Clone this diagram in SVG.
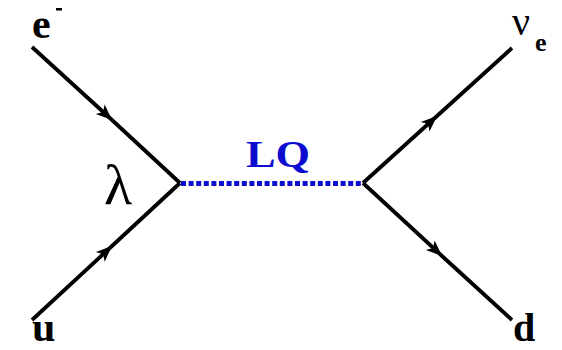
<svg xmlns="http://www.w3.org/2000/svg" width="562" height="350" viewBox="0 0 562 350">
<defs>
<marker id="arr" markerUnits="userSpaceOnUse" markerWidth="20" markerHeight="16" viewBox="-18 -8 20 16" refX="0" refY="0" orient="auto" overflow="visible">
<path d="M0,0 L-16,-6.5 L-12,0 L-16,6.5 Z" fill="#000"/>
</marker>
<style>
.f{fill:none;stroke:#000;stroke-width:3.8;stroke-linecap:butt;marker-mid:url(#arr)}
.lq{fill:none;stroke:#0c0cd0;stroke-width:5;stroke-dasharray:5 2.6}
.lab{font-family:"Liberation Serif","Times New Roman",serif;font-weight:bold;fill:#000}
</style>
</defs>
<rect width="562" height="350" fill="#fff"/>
<g id="connectors">
<polyline class="f" points="32,47 112,120 180,183"/>
<polyline class="f" points="32,320 112,246 180,183"/>
<polyline class="f" points="363,183 437,116 512,48"/>
<polyline class="f" points="363,183 442,256 512,320"/>
<line class="lq" x1="181" y1="183.5" x2="363" y2="183.5"/>
</g>
<g id="e-minus">
<text class="lab" x="32" y="38" font-size="42">e</text>
<rect x="56" y="8" width="6" height="2.5" fill="#000"/>
</g>
<g id="u-quark">
<text class="lab" x="32" y="341" font-size="42">u</text>
</g>
<g id="nu-e">
<text x="512" y="35" font-family="Liberation Serif, Times New Roman, serif" font-size="40" fill="#000">ν</text>
<text class="lab" x="535" y="51" font-size="26">e</text>
</g>
<g id="d-quark">
<text class="lab" x="513" y="341" font-size="40">d</text>
</g>
<g id="vertex-lambda">
<text x="104" y="204" font-family="Liberation Serif, Times New Roman, serif" font-size="58" fill="#000">λ</text>
</g>
<g id="leptoquark-label">
<text x="246" y="167" font-family="Liberation Serif, Times New Roman, serif" font-weight="bold" font-size="38" fill="#0c0cd0" textLength="64" lengthAdjust="spacingAndGlyphs">LQ</text>
</g>
</svg>
